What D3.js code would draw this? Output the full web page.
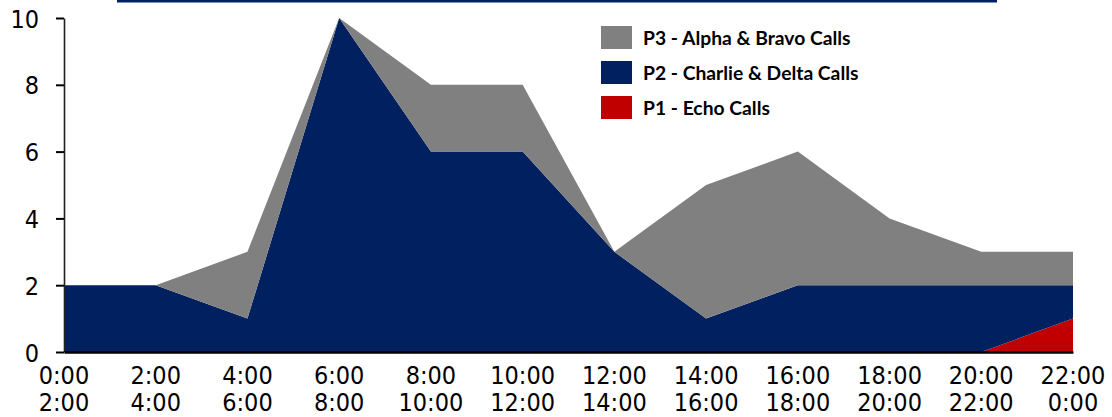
<!DOCTYPE html>
<html>
<head>
<meta charset="utf-8">
<script src="https://cdn.jsdelivr.net/npm/d3@7"></script>
<style>
  html, body { margin: 0; padding: 0; background: #fff; }
  svg { display: block; }
  .tick-label { font-family: "DejaVu Sans Condensed", "DejaVu Sans", sans-serif; font-stretch: condensed; font-size: 25px; fill: #000; }
  .legend-label { font-family: Lato, "Open Sans", sans-serif; font-weight: bold; font-size: 19.3px; fill: #000; }
</style>
</head>
<body>
<svg id="chart" width="1112" height="417"></svg>
<script>
// Two-hour time windows (start / end)
const slotStart = ["0:00", "2:00", "4:00", "6:00", "8:00", "10:00", "12:00", "14:00", "16:00", "18:00", "20:00", "22:00"];
const slotEnd   = ["2:00", "4:00", "6:00", "8:00", "10:00", "12:00", "14:00", "16:00", "18:00", "20:00", "22:00", "0:00"];

// Calls per window, by priority (stacked P1 -> P2 -> P3)
const p1Echo          = [0, 0, 0, 0,  0, 0, 0, 0, 0, 0, 0, 1];
const p2CharlieDelta  = [2, 2, 1, 10, 6, 6, 3, 1, 2, 2, 2, 1];
const p3AlphaBravo    = [0, 0, 2, 0,  2, 2, 0, 4, 4, 2, 1, 1];

const yTicks = [0, 2, 4, 6, 8, 10];

const seriesInfo = [
  { key: "p1", name: "P1 - Echo Calls", color: "#C00000" },
  { key: "p2", name: "P2 - Charlie & Delta Calls", color: "#002060" },
  { key: "p3", name: "P3 - Alpha & Bravo Calls", color: "#808080" }
];

const rows = slotStart.map((s, i) => ({
  slot: s,
  p1: p1Echo[i],
  p2: p2CharlieDelta[i],
  p3: p3AlphaBravo[i]
}));

const svg = d3.select("#chart");
const margin = { left: 64, right: 39, top: 18, bottom: 65 };
const W = 1112, H = 417;

const x = d3.scalePoint().domain(slotStart).range([margin.left, W - margin.right]);
const y = d3.scaleLinear().domain([0, 10]).range([H - margin.bottom, margin.top]);

// Banner rule along the top edge
svg.append("rect")
  .attr("x", 117).attr("y", 0).attr("width", 880).attr("height", 2.5)
  .attr("fill", "#002060");

// Stacked areas
const stack = d3.stack().keys(seriesInfo.map(d => d.key));
const layers = stack(rows);
const area = d3.area()
  .x(d => x(d.data.slot))
  .y0(d => y(d[0]))
  .y1(d => y(d[1]));

svg.append("g").selectAll("path")
  .data(layers)
  .join("path")
  .attr("d", area)
  .attr("fill", (d, i) => seriesInfo[i].color);

// Y axis
const yAxis = svg.append("g")
  .attr("transform", `translate(${margin.left},0)`)
  .call(d3.axisLeft(y).tickValues(yTicks).tickSize(8).tickPadding(17).tickSizeOuter(0));
yAxis.select(".domain").attr("stroke", "#222").attr("stroke-width", 1.6);
yAxis.selectAll(".tick line").attr("stroke", "#000").attr("stroke-width", 2);
yAxis.selectAll(".tick text").attr("class", "tick-label").attr("dy", "0.36em");

// X axis baseline
const xAxis = svg.append("g")
  .attr("transform", `translate(0,${y(0)})`)
  .call(d3.axisBottom(x).tickSize(0).tickFormat(""));
xAxis.select(".domain").attr("stroke", "#000").attr("stroke-width", 2.5);

// Two-line window labels
const labels = svg.append("g").selectAll("text")
  .data(slotStart.map((s, i) => ({ s, e: slotEnd[i] })))
  .join("text")
  .attr("class", "tick-label")
  .attr("text-anchor", "middle")
  .attr("x", d => x(d.s));
labels.append("tspan").attr("x", d => x(d.s)).attr("y", y(0) + 32).text(d => d.s);
labels.append("tspan").attr("x", d => x(d.s)).attr("y", y(0) + 59).text(d => d.e);

// Legend (P3 on top)
const legendOrder = seriesInfo.slice().reverse();
const lg = svg.append("g").attr("transform", "translate(601,26)");
const item = lg.selectAll("g").data(legendOrder).join("g")
  .attr("transform", (d, i) => `translate(0,${i * 35})`);
item.append("rect").attr("width", 31).attr("height", 23).attr("fill", d => d.color);
item.append("text").attr("class", "legend-label")
  .attr("x", 42).attr("y", 12).attr("dy", "0.36em")
  .text(d => d.name);
</script>
</body>
</html>
